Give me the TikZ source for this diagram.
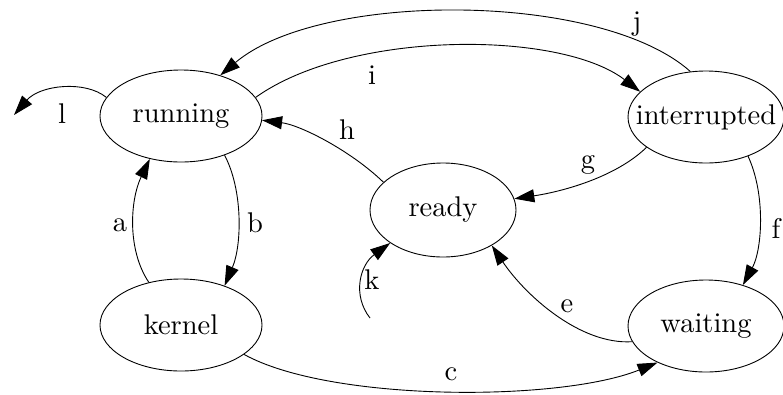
\documentclass[tikz,border=0pt]{standalone}
\usepackage{fontspec}
\setmainfont{lmroman10-regular.otf}
\usetikzlibrary{shapes.geometric,arrows.meta}
\begin{document}
\begin{tikzpicture}[x=1pt,y=-1pt,
  state/.style={draw,ellipse,line width=0.9pt,inner xsep=-20pt,inner ysep=0pt,minimum width=162pt,minimum height=92pt,font=\fontsize{28.5}{34}\selectfont},
  lab/.style={font=\fontsize{28.5}{34}\selectfont,inner sep=0pt},
  edge/.style={line width=0.9pt,-{Triangle[length=20pt,width=13pt]}}]
\useasboundingbox (0,0) rectangle (783,394);
\node[state] (running) at (181,116) {running};
\node[state,minimum width=156pt] (interrupted) at (706,117) {interrupted};
\node[state,minimum width=146pt,minimum height=94pt] (ready) at (443,210) {ready};
\node[state] (kernel) at (181,325) {kernel};
\node[state,minimum width=156pt] (waiting) at (706,326) {waiting};
\coordinate (kstart) at (370,318);
\coordinate (lend) at (14,115);
% edges
\draw[edge] (kernel.127.7) .. controls (127,250) and (130,200) .. (running.234);
\draw[edge] (running.318) .. controls (243,190) and (242,245) .. (kernel.42);
\draw[edge] (kernel.335.6) .. controls (330,402) and (560,402) .. (waiting.217.8);
\draw[edge] (waiting.192) .. controls (580,345) and (525,295) .. (ready.324.9);
\draw[edge] (interrupted.317) .. controls (766,195) and (762,250) .. (waiting.48.4);
\draw[edge] (interrupted.207.6) .. controls (615,178) and (560,192) .. (ready.9.5);
\draw[edge] (ready.155) .. controls (350,150) and (300,125) .. (running.357);
\draw[edge] (running.14) .. controls (350,30) and (560,30) .. (interrupted.159.4);
\draw[edge] (interrupted.109.6) .. controls (600,-9) and (320,-9) .. (running.46);
\draw[edge] (kstart) .. controls (352,295) and (360,265) .. (ready.212);
\draw[edge] (running.166) .. controls (85,80) and (40,85) .. (lend);
% labels
\node[lab] (la) at (120,225) {a};
\node[lab] (lb) at (255,223) {b};
\node[lab] (lc) at (451,374) {c};
\node[lab] (le) at (567,306) {e};
\node[lab] (lf) at (776,228) {f};
\node[lab] (lg) at (588,165) {g};
\node[lab] (lh) at (347,130) {h};
\node[lab] (li) at (372,75) {i};
\node[lab] (lj) at (637,24) {j};
\node[lab] (lk) at (372,280) {k};
\node[lab] (ll) at (62,114) {l};
\end{tikzpicture}
\end{document}
